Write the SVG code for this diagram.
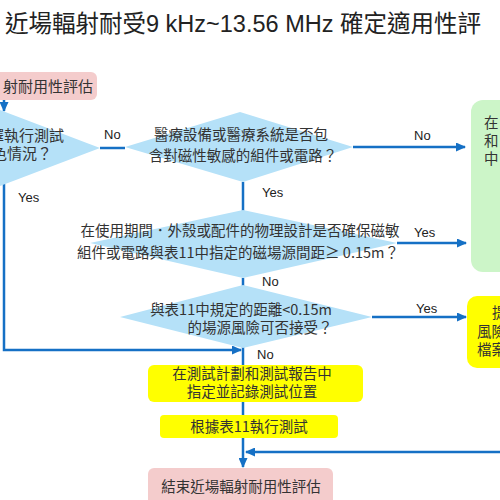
<svg xmlns="http://www.w3.org/2000/svg" width="500" height="500" viewBox="0 0 500 500">
<defs>
<style>
.t{font-family:"Noto Sans CJK TC","Noto Sans CJK SC",sans-serif;fill:#333;}
.lbl{font-family:"Liberation Sans",Arial,sans-serif;font-size:13px;fill:#222;}
.dia{fill:#b5e1f8;}
.pink{fill:#f4cccc;}
.yel{fill:#ffff00;}
.grn{fill:#ccf5c8;}
.ln{stroke:#1570c5;stroke-width:2.5;fill:none;}
</style>
<marker id="ah" markerUnits="userSpaceOnUse" markerWidth="10" markerHeight="9" refX="9" refY="4.5" orient="auto">
<path d="M0,0 L10,4.5 L0,9 z" fill="#1570c5"/>
</marker>
</defs>
<rect width="500" height="500" fill="#fff"/>
<text x="5" y="32" font-size="23.5" fill="#222" font-family="'Liberation Sans','Noto Sans CJK TC',sans-serif">近場輻射耐受9 kHz~13.56 MHz 確定適用性評</text>

<g id="connectors">
<path class="ln" d="M4,100 V111" marker-end="url(#ah)"/>
<path class="ln" d="M100,148 H125"/>
<path class="ln" d="M4,184 V350 H241" marker-end="url(#ah)"/>
<path class="ln" d="M353,147 H465" marker-end="url(#ah)"/>
<path class="ln" d="M243,182 V212"/>
<path class="ln" d="M397,243 H466" marker-end="url(#ah)"/>
<path class="ln" d="M243,278 V287"/>
<path class="ln" d="M372,317 H466" marker-end="url(#ah)"/>
<path class="ln" d="M243,347 V366"/>
<path class="ln" d="M243,402 V416"/>
<path class="ln" d="M243,438 V467" marker-end="url(#ah)"/>
<path class="ln" d="M502,452 H246" marker-end="url(#ah)"/>
<text class="lbl" x="104" y="139">No</text>
<text class="lbl" x="18" y="202">Yes</text>
<text class="lbl" x="414" y="140">No</text>
<text class="lbl" x="262" y="197">Yes</text>
<text class="lbl" x="414" y="237">Yes</text>
<text class="lbl" x="262" y="286">No</text>
<text class="lbl" x="416" y="313">Yes</text>
<text class="lbl" x="257" y="359">No</text>
</g>

<g id="start">
<rect class="pink" x="-10" y="72" width="107" height="28" rx="6"/>
<text class="t" x="93" y="92" font-size="15" text-anchor="end">射耐用性評估</text>
</g>

<g id="d1">
<polygon class="dia" points="0,110 100,148 0,186 -100,148"/>
<text class="t" x="64" y="141" font-size="15" text-anchor="end">擇執行測試</text>
<text class="t" x="52" y="159" font-size="15" text-anchor="end">色情況？</text>
</g>

<g id="d2">
<polygon class="dia" points="240,112 353,147 243,182 125,147"/>
<text class="t" x="241" y="140" font-size="14.5" text-anchor="middle">醫療設備或醫療系統是否包</text>
<text class="t" x="243" y="161" font-size="14.5" text-anchor="middle">含對磁性敏感的組件或電路？</text>
</g>

<g id="d3">
<polygon class="dia" points="243,210 397,243 243,278 90,243"/>
<text class="t" x="240" y="236" font-size="14.5" text-anchor="middle">在使用期間．外殼或配件的物理設計是否確保磁敏</text>
<text class="t" x="238" y="258" font-size="14.5" text-anchor="middle">組件或電路與表11中指定的磁場源間距≥ 0.15m？</text>
</g>

<g id="d4">
<polygon class="dia" points="243,285 372,317 243,348 120,317"/>
<text class="t" x="241" y="315" font-size="14.5" text-anchor="middle">與表11中規定的距離&lt;0.15m</text>
<text class="t" x="260" y="333" font-size="14.5" text-anchor="middle">的場源風險可否接受？</text>
</g>

<g id="green">
<rect class="grn" x="471" y="100" width="60" height="172" rx="12"/>
<text class="t" x="484" y="128" font-size="14.5">在</text>
<text class="t" x="484" y="146" font-size="14.5">和</text>
<text class="t" x="484" y="164" font-size="14.5">中</text>
</g>

<g id="risk">
<rect class="yel" x="467" y="296" width="60" height="72" rx="10"/>
<text class="t" x="492" y="318" font-size="14.5">提</text>
<text class="t" x="477" y="337" font-size="14.5">風險</text>
<text class="t" x="477" y="355" font-size="14.5">檔案</text>
</g>

<g id="plan">
<rect class="yel" x="148" y="365" width="215" height="37" rx="6"/>
<text class="t" x="252" y="379" font-size="14.5" text-anchor="middle">在測試計劃和測試報告中</text>
<text class="t" x="252" y="397" font-size="14.5" text-anchor="middle">指定並記錄測試位置</text>
</g>

<g id="test">
<rect class="yel" x="160" y="415" width="178" height="23" rx="4"/>
<text class="t" x="249" y="432" font-size="14.5" text-anchor="middle">根據表11執行測試</text>
</g>

<g id="end">
<rect class="pink" x="148" y="468" width="185" height="40" rx="6"/>
<text class="t" x="241" y="492" font-size="14.5" text-anchor="middle">結束近場輻射耐用性評估</text>
</g>
</svg>
